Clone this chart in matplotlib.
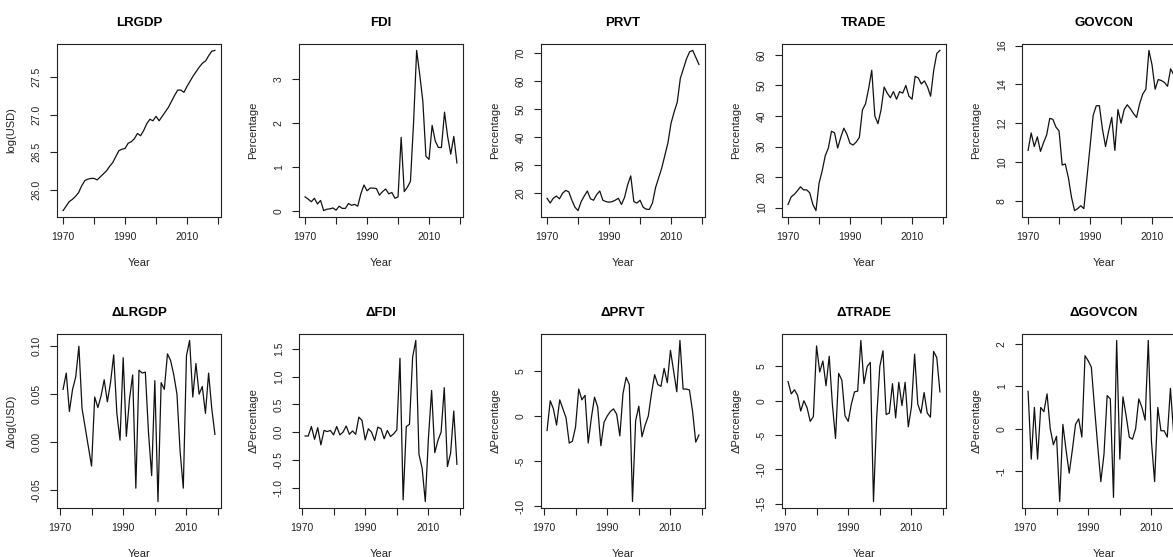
import numpy as np
import matplotlib
matplotlib.use("Agg")
import matplotlib.pyplot as plt

plt.rcParams['font.family'] = ['Liberation Sans', 'DejaVu Sans']

years = np.arange(1970, 2020)
dyears = np.arange(1971, 2020)

lrgdp = [25.72, 25.78, 25.84, 25.87, 25.91, 25.96, 26.05, 26.12, 26.14, 26.15,
         26.15, 26.13, 26.17, 26.21, 26.25, 26.31, 26.36, 26.44, 26.52, 26.54,
         26.55, 26.62, 26.64, 26.68, 26.75, 26.72, 26.79, 26.88, 26.94, 26.92,
         26.98, 26.92, 26.98, 27.04, 27.10, 27.18, 27.26, 27.33, 27.33, 27.30,
         27.38, 27.45, 27.52, 27.58, 27.64, 27.69, 27.72, 27.79, 27.85, 27.86]
fdi = [0.33, 0.28, 0.22, 0.30, 0.17, 0.25, 0.02, 0.05, 0.06, 0.08,
       0.03, 0.12, 0.07, 0.07, 0.18, 0.14, 0.16, 0.12, 0.40, 0.60,
       0.47, 0.53, 0.53, 0.52, 0.37, 0.45, 0.51, 0.40, 0.43, 0.30,
       0.33, 1.68, 0.45, 0.55, 0.68, 2.00, 3.65, 3.10, 2.50, 1.25,
       1.18, 1.95, 1.60, 1.45, 1.45, 2.25, 1.70, 1.30, 1.70, 1.10]
prvt = [18.2, 16.5, 18.2, 19.0, 18.0, 20.0, 21.0, 20.5, 17.5, 15.0,
        13.8, 17.0, 19.0, 20.8, 18.0, 17.5, 19.5, 20.8, 17.5, 17.0,
        16.8, 17.0, 17.5, 18.2, 16.0, 18.5, 23.0, 26.2, 17.0, 16.5,
        17.5, 15.0, 14.3, 14.2, 16.5, 22.0, 25.5, 29.0, 33.5, 38.0,
        45.0, 49.0, 52.5, 61.0, 64.5, 68.0, 70.5, 71.0, 68.5, 66.0]
trade = [11.0, 13.5, 14.3, 15.5, 16.8, 15.8, 15.8, 14.8, 11.0, 9.0,
         18.0, 22.0, 27.0, 29.5, 35.0, 34.5, 29.5, 33.0, 36.0, 34.0,
         31.0, 30.5, 31.5, 33.0, 42.0, 44.0, 49.0, 55.0, 40.0, 37.5,
         42.0, 49.5, 47.5, 46.0, 48.0, 45.5, 48.0, 47.5, 50.0, 46.5,
         45.5, 53.0, 52.5, 50.5, 51.5, 49.5, 46.5, 55.0, 60.5, 61.5]
govcon = [10.6, 11.5, 10.8, 11.3, 10.55, 11.0, 11.4, 12.25, 12.2, 11.8,
          11.6, 9.85, 9.9, 9.2, 8.2, 7.5, 7.6, 7.75, 7.6, 9.2,
          10.8, 12.4, 12.9, 12.9, 11.7, 10.8, 11.6, 12.3, 10.6, 12.7,
          12.0, 12.7, 12.95, 12.75, 12.5, 12.3, 13.0, 13.5, 13.75, 15.75,
          15.0, 13.75, 14.25, 14.2, 14.1, 13.9, 14.8, 14.5, 14.7, 14.9]

d_lrgdp = [0.055, 0.072, 0.032, 0.055, 0.068, 0.100, 0.035, 0.015, -0.005,
           -0.025, 0.047, 0.036, 0.048, 0.065, 0.042, 0.062, 0.091, 0.030, 0.002,
           0.088, 0.006, 0.045, 0.070, -0.048, 0.075, 0.072, 0.073, 0.010, -0.035,
           0.064, -0.062, 0.062, 0.055, 0.092, 0.085, 0.070, 0.050, -0.010, -0.048,
           0.090, 0.106, 0.047, 0.082, 0.050, 0.058, 0.030, 0.072, 0.035, 0.008]
d_fdi = [-0.07, -0.07, 0.10, -0.13, 0.08, -0.23, 0.03, 0.01, 0.03,
         -0.05, 0.10, -0.05, 0.00, 0.11, -0.04, 0.02, -0.04, 0.27, 0.21,
         -0.14, 0.06, 0.00, -0.15, 0.09, 0.06, -0.12, 0.03, -0.08, -0.03,
         0.04, 1.33, -1.22, 0.10, 0.14, 1.35, 1.65, -0.40, -0.65, -1.25,
         -0.10, 0.75, -0.37, -0.15, 0.00, 0.80, -0.62, -0.38, 0.38, -0.58]
d_prvt = [-1.6, 1.7, 0.8, -1.0, 1.8, 0.8, -0.2, -3.0, -2.8,
          -1.2, 3.0, 1.8, 2.3, -3.0, -0.2, 2.1, 1.0, -3.3, -0.7,
          0.0, 0.5, 0.8, 0.2, -2.2, 2.5, 4.3, 3.5, -9.5, -0.5,
          1.1, -2.3, -1.0, 0.0, 2.5, 4.6, 3.5, 3.3, 5.3, 3.7,
          7.3, 5.0, 2.7, 8.4, 3.0, 3.0, 2.9, 0.5, -2.9, -2.1]
d_trade = [2.8, 1.0, 1.6, 0.8, -1.5, 0.0, -1.0, -3.0, -2.3,
           8.0, 4.2, 5.8, 2.2, 6.5, -0.5, -5.5, 4.0, 3.0, -2.2,
           -3.0, -0.5, 1.3, 1.4, 8.8, 2.5, 5.0, 5.6, -14.7, -2.5,
           5.0, 7.3, -2.0, -1.8, 2.5, -2.5, 2.7, -0.7, 2.7, -3.8,
           -0.9, 6.8, -0.5, -1.8, 1.2, -1.8, -2.4, 7.2, 6.3, 1.3]
d_govcon = [0.88, -0.72, 0.50, -0.72, 0.50, 0.40, 0.82, 0.00, -0.38,
            -0.18, -1.72, 0.10, -0.50, -1.05, -0.50, 0.10, 0.23, -0.20, 1.72,
            1.60, 1.45, 0.50, -0.40, -1.25, -0.60, 0.78, 0.70, -1.62, 2.08,
            -0.72, 0.75, 0.30, -0.20, -0.25, 0.00, 0.70, 0.50, 0.20, 2.08,
            -0.30, -1.25, 0.50, -0.05, -0.05, -0.20, 0.95, -0.10, 0.50, -0.20]

top_titles = ["LRGDP", "FDI", "PRVT", "TRADE", "GOVCON"]
bottom_titles = ["\u0394LRGDP", "\u0394FDI", "\u0394PRVT", "\u0394TRADE", "\u0394GOVCON"]
top_ylabels = ["log(USD)", "Percentage", "Percentage", "Percentage", "Percentage"]
bottom_ylabels = ["\u0394log(USD)", "\u0394Percentage", "\u0394Percentage",
                  "\u0394Percentage", "\u0394Percentage"]
top_yticks = [([26.0, 26.5, 27.0, 27.5], ["26.0", "26.5", "27.0", "27.5"]),
              ([0, 1, 2, 3], ["0", "1", "2", "3"]),
              ([20, 30, 40, 50, 60, 70], ["20", "30", "40", "50", "60", "70"]),
              ([10, 20, 30, 40, 50, 60], ["10", "20", "30", "40", "50", "60"]),
              ([8, 10, 12, 14, 16], ["8", "10", "12", "14", "16"])]
bottom_yticks = [([-0.05, 0.0, 0.05, 0.10], ["-0.05", "0.00", "0.05", "0.10"]),
                 ([-1.0, -0.5, 0.0, 0.5, 1.0, 1.5], ["-1.0", "-0.5", "0.0", "0.5", "1.0", "1.5"]),
                 ([-10, -5, 0, 5], ["-10", "-5", "0", "5"]),
                 ([-15, -10, -5, 0, 5], ["-15", "-10", "-5", "0", "5"]),
                 ([-1, 0, 1, 2], ["-1", "0", "1", "2"])]
xtick_pos = [1970, 1980, 1990, 2000, 2010, 2020]
xtick_labels = ["1970", "", "1990", "", "2010", ""]

W, H = 1173, 557
lefts = [57, 299, 541, 782, 1022]
box_w = 164


def draw_panel(ax, x, y, title, ylabel, yticks):
    x = np.asarray(x)
    y = np.asarray(y)
    ax.plot(x, y, color="#111111", lw=0.9)
    # R style 4% padding on both axes
    xr = x.max() - x.min()
    yr = y.max() - y.min()
    ax.set_xlim(x.min() - 0.04 * xr, x.max() + 0.04 * xr)
    ax.set_ylim(y.min() - 0.04 * yr, y.max() + 0.04 * yr)
    ax.set_xticks(xtick_pos)
    ax.set_xticklabels(xtick_labels)
    ax.set_yticks(yticks[0])
    ax.set_yticklabels(yticks[1], rotation=90, va="center")
    ax.tick_params(direction="out", length=5, width=0.8, labelsize=7.5,
                   colors="#222222", pad=6)
    for s in ax.spines.values():
        s.set_linewidth(0.8)
        s.set_color("#222222")
    ax.set_title(title, fontsize=9.5, fontweight="bold", pad=13)
    ax.set_xlabel("Year", fontsize=8, labelpad=11, color="#222222")
    ax.set_ylabel(ylabel, fontsize=8, labelpad=11, color="#222222")


fig = plt.figure(figsize=(W / 100, H / 100), dpi=100)

top_series = [lrgdp, fdi, prvt, trade, govcon]
bottom_series = [d_lrgdp, d_fdi, d_prvt, d_trade, d_govcon]

for i in range(5):
    ax = fig.add_axes([lefts[i] / W, 1 - 217 / H, box_w / W, 173 / H])
    draw_panel(ax, years, top_series[i], top_titles[i], top_ylabels[i], top_yticks[i])
    ax = fig.add_axes([lefts[i] / W, 1 - 508 / H, box_w / W, 174 / H])
    draw_panel(ax, dyears, bottom_series[i], bottom_titles[i], bottom_ylabels[i], bottom_yticks[i])

fig.savefig("out.png", dpi=100, facecolor="white")
